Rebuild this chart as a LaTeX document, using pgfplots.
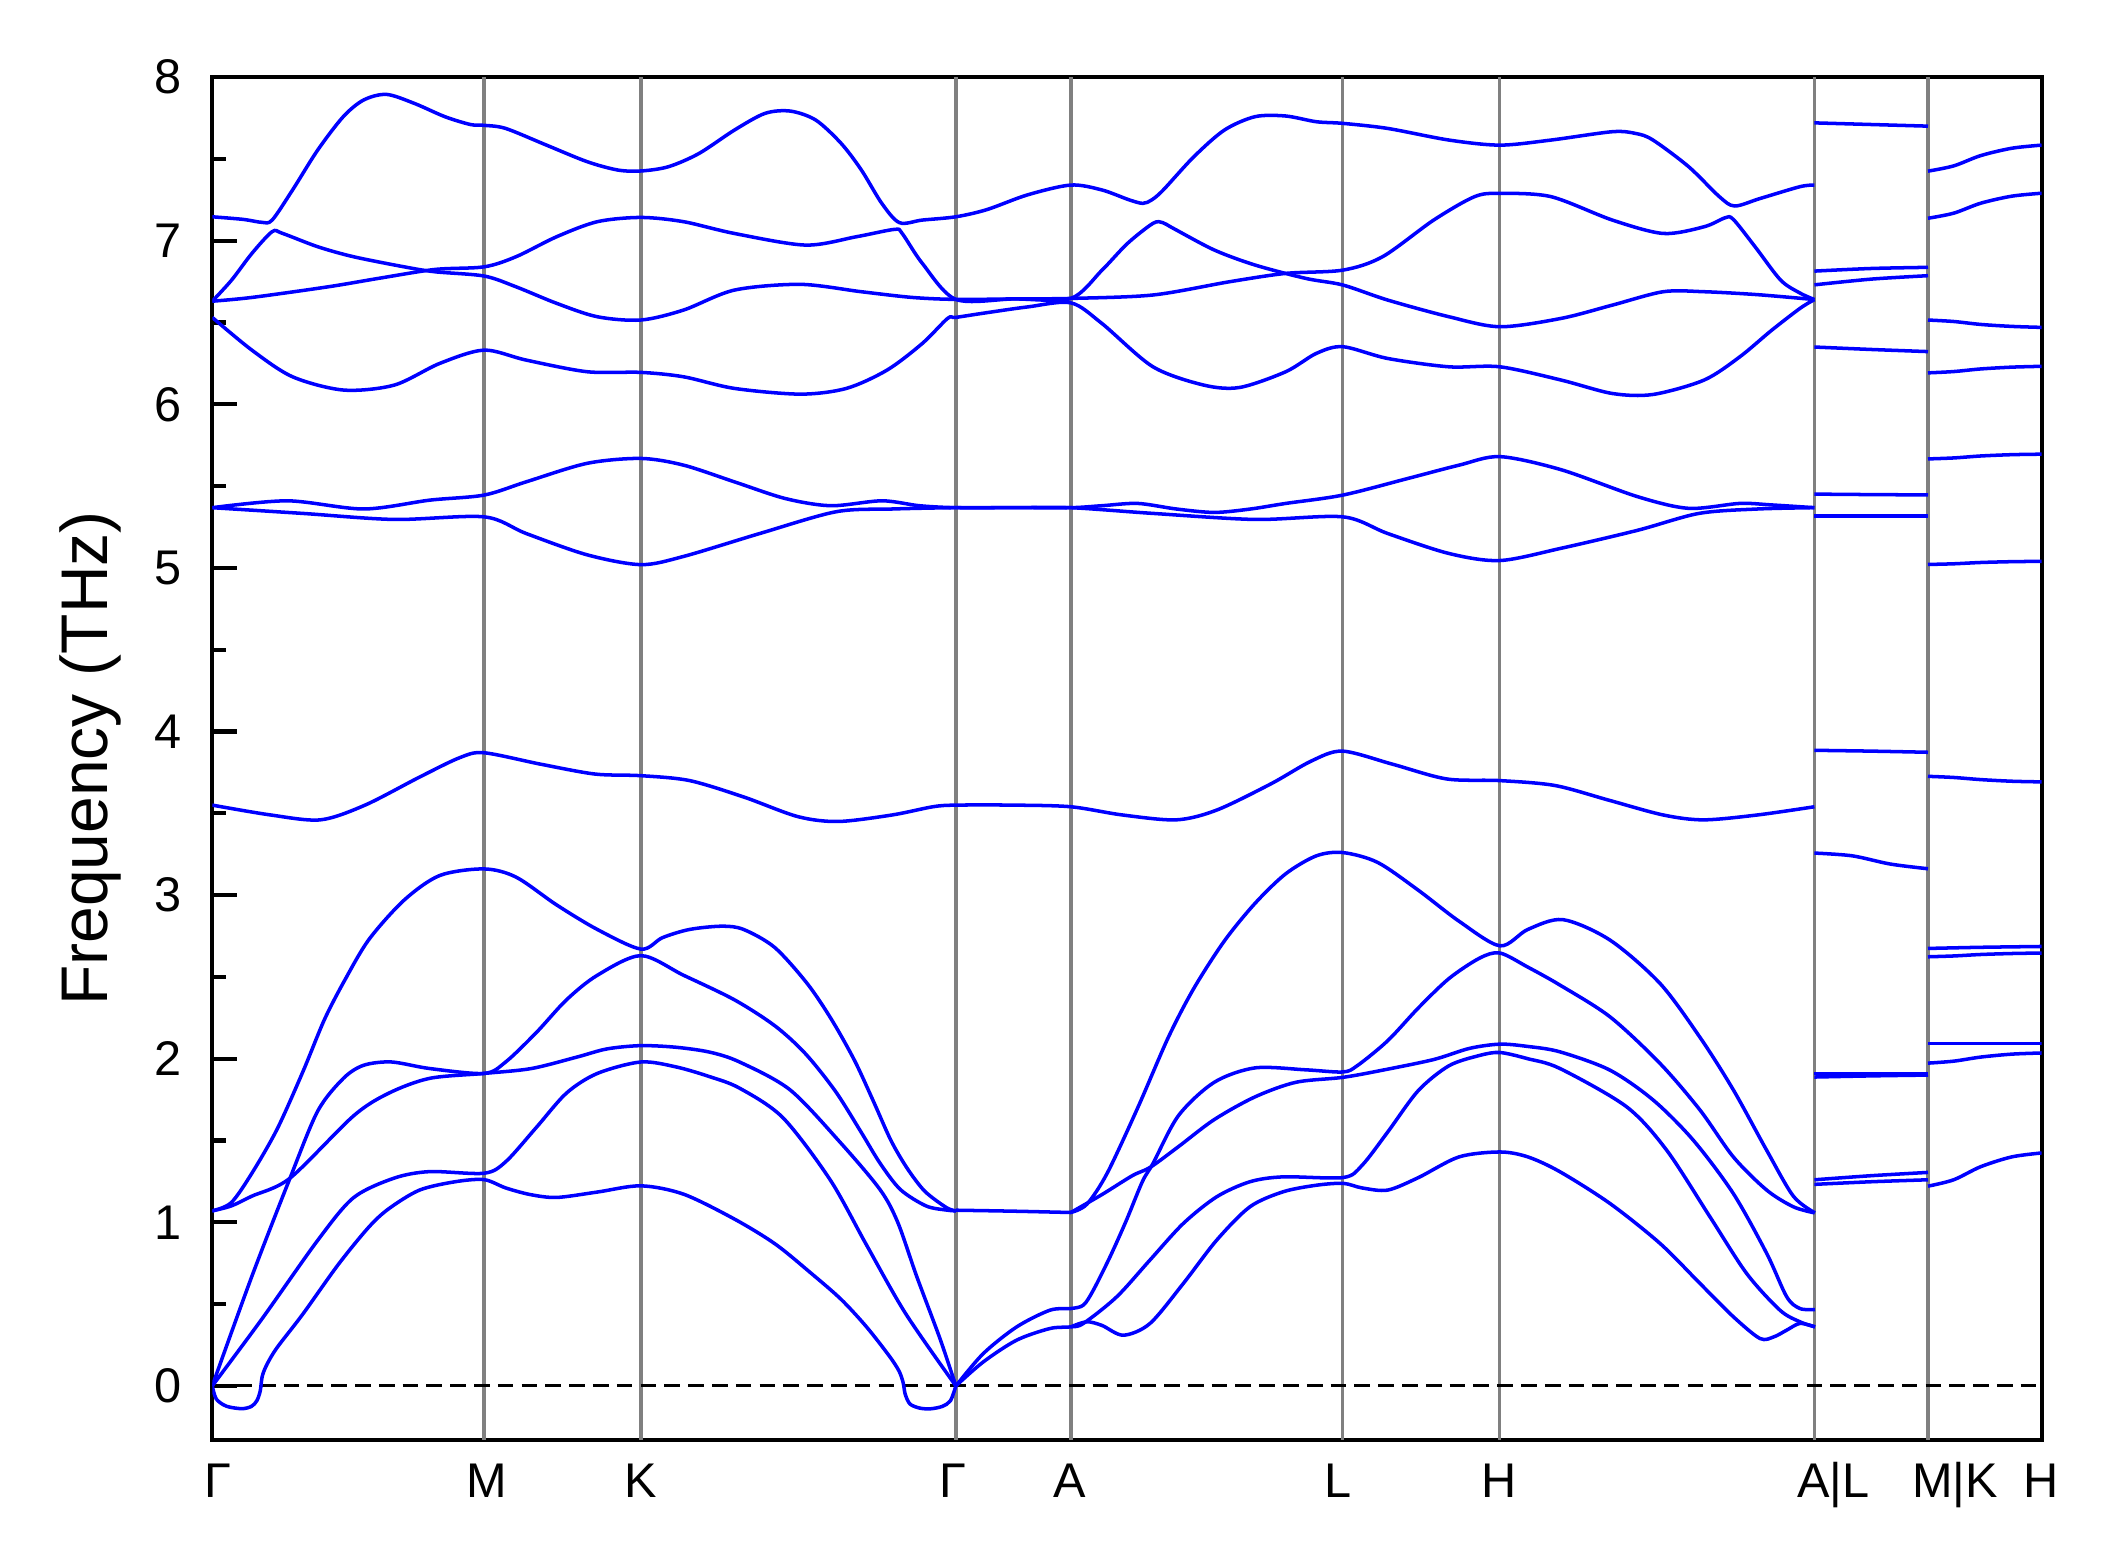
\documentclass[border=0pt]{standalone}
\usepackage{fontspec}
\setmainfont{Liberation Sans}
\usepackage{pgfplots}
\pgfplotsset{compat=1.18}
\usetikzlibrary{calc}
\pgfplotsset{band/.style={color={rgb,255:red,0;green,0;blue,255}, line width=0.65pt, smooth, tension=0.5, forget plot}}
\begin{document}
\begin{tikzpicture}
\begin{axis}[
  width=338.25pt, height=252pt, scale only axis,
  xmin=157, xmax=1510, ymin=-0.33, ymax=8,
  axis line style={line width=0.75pt},
  ytick={0,1,2,3,4,5,6,7,8},
  minor ytick={0.5,1.5,2.5,3.5,4.5,5.5,6.5,7.5},
  ytick pos=left, tick align=inside,
  major tick length=4.6pt, minor tick length=2.5pt,
  every tick/.style={black, line width=0.75pt},
  xtick={161,360,474,705,791,990,1109,1356,1446,1510},
  xticklabels={Γ,M,K,Γ,A,L,H,A|L,M|K,H},
  x tick style={draw=none},
  xtick pos=bottom,
  /pgf/number format/assume math mode=true,
  yticklabel style={font=\fontsize{9}{10}\selectfont, xshift=-2.2pt},
  xticklabel style={font=\fontsize{9}{10}\selectfont, text height=6.5pt, text depth=1.9pt, yshift=-0.7pt},
  ylabel={Frequency (THz)},
  every axis y label/.style={at={(axis description cs:-0.0665,0.5)}, rotate=90, anchor=center, font=\fontsize{12.2}{14}\selectfont},
  clip=true,
]
\pgfplotsinvokeforeach{358,474,707,792,993,1109,1342,1426}{
  \addplot[color={rgb,255:red,128;green,128;blue,128}, line width=0.65pt, forget plot] coordinates {(#1,-0.33) (#1,8)};
}
\addplot[black, line width=0.55pt, dash pattern=on 2.9pt off 1.5pt, forget plot] coordinates {(157,0) (1510,0)};

% ---- Gamma - M - K - Gamma ----
\addplot[band] coordinates {(157,0) (160,-0.08) (167.5,-0.124) (178.8,-0.139) (186,-0.125) (190,-0.09) (192.5,-0.03) (194,0.06) (197.6,0.134) (205,0.235) (223.9,0.438) (250.2,0.742) (272.7,0.97) (287.7,1.084) (310.3,1.197) (336.6,1.248) (358,1.261) (374.1,1.21) (392,1.17) (411.7,1.152) (441.8,1.185) (474,1.223) (505.6,1.172) (543.2,1.02) (573.3,0.868) (599.6,0.691) (622,0.53) (641,0.36) (658,0.18) (665,0.09) (668,0.02) (669.5,-0.05) (673,-0.11) (680,-0.135) (688,-0.14) (697,-0.125) (703,-0.09) (707,0)};
\addplot[band] coordinates {(157,0) (193.8,0.41) (235,0.89) (261.4,1.15) (291.5,1.27) (317.8,1.31) (358,1.30) (374,1.37) (396.7,1.58) (419,1.79) (441.8,1.91) (474,1.98) (500,1.95) (525,1.89) (547,1.82) (579,1.64) (614,1.26) (641,0.86) (670,0.44) (707,0)};
\addplot[band] coordinates {(157,0) (186.3,0.67) (214.5,1.27) (235,1.68) (254,1.88) (269,1.96) (289.6,1.98) (317.8,1.94) (358,1.91) (374,1.98) (396.7,2.16) (419,2.36) (441.8,2.51) (474,2.63) (505.6,2.51) (543.2,2.36) (573.3,2.20) (595.8,2.03) (618,1.80) (637,1.55) (651,1.36) (666,1.20) (685,1.10) (700,1.075) (707,1.07)};
\addplot[band] coordinates {(157,1.07) (171,1.10) (186.3,1.16) (214.5,1.27) (261.4,1.65) (287.7,1.79) (317.8,1.88) (358,1.91) (393,1.94) (426.7,2.01) (449,2.06) (474,2.08) (500,2.07) (525,2.04) (547,1.98) (584.3,1.81) (621.3,1.49) (650.9,1.20) (664,1.00) (678,0.67) (695.2,0.29) (707,0)};
\addplot[band] coordinates {(157,1.07) (171,1.12) (186.3,1.30) (205,1.57) (224,1.92) (240,2.24) (255,2.48) (273,2.73) (299,2.97) (325.3,3.12) (358,3.16) (381.7,3.11) (411.7,2.94) (441.8,2.79) (474,2.67) (490,2.74) (510,2.79) (534,2.81) (550,2.79) (573,2.68) (597,2.46) (615,2.24) (632,1.99) (646,1.74) (659,1.50) (671,1.33) (684,1.19) (700,1.09) (707,1.07)};
% 3.55 band, whole path to A|L
\addplot[band] coordinates {(157,3.55) (200,3.49) (237,3.46) (270,3.55) (310,3.72) (340,3.84) (358,3.87) (400,3.80) (440,3.74) (474,3.73) (510,3.70) (550,3.60) (590,3.48) (620,3.45) (660,3.49) (690,3.54) (707,3.55) (750,3.55) (792,3.54) (830,3.49) (870,3.46) (900,3.52) (940,3.68) (970,3.82) (993,3.88) (1030,3.80) (1070,3.71) (1109,3.70) (1150,3.67) (1190,3.58) (1230,3.49) (1260,3.46) (1300,3.49) (1342,3.54)};
% 5.37 upper
\addplot[band] coordinates {(157,5.368) (212.6,5.41) (268.9,5.36) (317.8,5.414) (358,5.445) (389.2,5.526) (434.2,5.639) (474,5.669) (505.6,5.628) (543.2,5.526) (580.8,5.424) (614.6,5.38) (652.2,5.41) (680,5.38) (707,5.368) (750,5.368) (792,5.368) (815,5.38) (841.5,5.394) (870,5.36) (898.1,5.339) (925,5.36) (951,5.394) (993.2,5.445) (1041.5,5.547) (1079.2,5.628) (1109.4,5.68) (1154.7,5.60) (1211.3,5.435) (1249,5.364) (1286.8,5.394) (1310,5.385) (1342,5.368)};
% 5.37 lower
\addplot[band] coordinates {(157,5.368) (223.9,5.333) (291.5,5.296) (358,5.312) (389.2,5.21) (434.2,5.08) (474,5.02) (505.6,5.07) (561.9,5.21) (618.3,5.343) (660,5.36) (707,5.368) (750,5.368) (792,5.368) (852.8,5.333) (928.3,5.296) (993.2,5.312) (1026.4,5.21) (1071.7,5.088) (1109.4,5.045) (1154.7,5.12) (1211.3,5.23) (1256.6,5.333) (1300,5.36) (1342,5.368)};
% 6.52 band
\addplot[band] coordinates {(157,6.531) (186.3,6.331) (216.4,6.168) (254,6.087) (291.5,6.117) (325.3,6.25) (358,6.331) (389.2,6.27) (434.2,6.199) (474,6.195) (505.6,6.168) (543.2,6.097) (592,6.062) (626,6.097) (656.1,6.209) (682.2,6.372) (700.9,6.525) (707,6.531) (730,6.56) (760,6.595) (792,6.62) (815,6.494) (852.8,6.229) (890.5,6.117) (917,6.103) (951,6.199) (973.6,6.311) (993.2,6.352) (1026.4,6.28) (1071.7,6.229) (1109.4,6.229) (1154.7,6.148) (1192.5,6.066) (1222.6,6.06) (1260.4,6.148) (1286.8,6.29) (1310,6.45) (1331.3,6.586) (1342,6.64)};
% T2
\addplot[band] coordinates {(157,6.63) (171.3,6.759) (186.3,6.922) (201.3,7.055) (208.8,7.045) (235,6.963) (261.4,6.902) (299,6.84) (321.6,6.81) (358,6.784) (381.7,6.718) (411.7,6.617) (441.8,6.535) (474,6.515) (505.6,6.576) (543.2,6.698) (592,6.733) (637,6.688) (674.7,6.653) (707,6.641) (750,6.644) (792,6.647) (815.1,6.82) (833.9,6.983) (852.8,7.106) (860,7.11) (867.9,7.075) (898.1,6.943) (928.3,6.851) (966,6.769) (993.2,6.729) (1026.4,6.637) (1071.7,6.535) (1109.4,6.474) (1154.7,6.525) (1192.5,6.606) (1230.2,6.688) (1260.4,6.688) (1300,6.67) (1342,6.64)};
% T3
\addplot[band] coordinates {(157,6.63) (186.3,6.653) (242.7,6.718) (280.3,6.77) (321.6,6.824) (358,6.84) (381.7,6.902) (411.7,7.024) (441.8,7.116) (474,7.142) (505.6,7.116) (543.2,7.044) (595.8,6.973) (633.4,7.024) (661.6,7.069) (667.2,7.045) (682.2,6.861) (707,6.641) (750,6.644) (792,6.647) (852.8,6.668) (909.4,6.749) (951,6.8) (993.2,6.82) (1022.6,6.902) (1060.4,7.126) (1090.6,7.269) (1109.4,7.289) (1147.2,7.269) (1192.5,7.126) (1230.2,7.044) (1260.4,7.085) (1276,7.14) (1282,7.13) (1298.1,6.963) (1317,6.759) (1331.3,6.68) (1342,6.64)};
% T1
\addplot[band] coordinates {(157,7.146) (180,7.13) (193.8,7.112) (201.3,7.126) (216.4,7.31) (235,7.554) (253.9,7.758) (269,7.86) (285.9,7.894) (306.5,7.839) (329,7.758) (347.9,7.71) (358,7.705) (374,7.686) (404.2,7.584) (434.2,7.483) (456.8,7.432) (474,7.426) (494.4,7.452) (517,7.533) (543.2,7.676) (565.8,7.778) (584.6,7.792) (603.4,7.737) (622.1,7.595) (637.1,7.432) (652.2,7.228) (665.3,7.110) (682.2,7.126) (707,7.146) (730,7.19) (760,7.28) (792,7.34) (815,7.31) (835,7.25) (845.3,7.228) (852,7.25) (860.4,7.31) (883,7.513) (905.6,7.676) (928.3,7.758) (950.9,7.762) (973.6,7.727) (993.2,7.717) (1026.4,7.686) (1071.7,7.615) (1109.4,7.584) (1147.2,7.615) (1192.5,7.666) (1210,7.655) (1222.6,7.615) (1249,7.452) (1271.7,7.269) (1283,7.212) (1301.9,7.258) (1331.3,7.33) (1342,7.34)};

% ---- Gamma - A and onward (low bands) ----
\addplot[band] coordinates {(707,1.074) (750,1.068) (792,1.06)};
% acoustic upper -> A3
\addplot[band] coordinates {(707,0) (727.3,0.198) (752,0.361) (776.6,0.463) (792,0.473) (801.3,0.494) (808.7,0.586) (821,0.789) (833,1.01) (845,1.25) (852.8,1.36) (871.7,1.653) (898.1,1.856) (928.3,1.944) (966,1.932) (993.2,1.919) (1003.8,1.957) (1026.4,2.11) (1049,2.31) (1071.7,2.49) (1094.4,2.615) (1109.4,2.646) (1130,2.56) (1153.8,2.45) (1190.8,2.256) (1227.8,1.971) (1257.4,1.686) (1282,1.40) (1306.7,1.197) (1326.4,1.095) (1342,1.058)};
% acoustic lower -> A4
\addplot[band] coordinates {(707,0) (727.3,0.147) (752,0.28) (776.6,0.351) (792,0.361) (801.3,0.382) (826,0.545) (850.6,0.77) (875.2,0.993) (899.9,1.156) (924.5,1.248) (949.2,1.278) (993.6,1.274) (1007.5,1.349) (1026.4,1.552) (1049,1.805) (1071.7,1.957) (1094.4,2.02) (1109.4,2.038) (1130,2.00) (1153.8,1.94) (1203.1,1.706) (1232.7,1.441) (1264.7,1.034) (1291.9,0.687) (1316.5,0.463) (1331.3,0.392) (1342.4,0.361)};
% A5
\addplot[band] coordinates {(792,0.361) (803.7,0.392) (815,0.37) (830.9,0.31) (850.6,0.382) (875.2,0.626) (899.9,0.891) (924.5,1.095) (949.2,1.187) (973.9,1.227) (993.6,1.238) (1007.5,1.21) (1026.4,1.197) (1049,1.273) (1079.2,1.40) (1109.4,1.43) (1130,1.40) (1153.8,1.309) (1190.8,1.115) (1227.8,0.871) (1257.4,0.626) (1282,0.423) (1301.7,0.29) (1312,0.30) (1321.5,0.341) (1331.3,0.382) (1342.4,0.361)};
% A1 steep
\addplot[band] coordinates {(792,1.06) (803.8,1.11) (818.9,1.30) (841.5,1.70) (864.1,2.13) (883,2.43) (905.6,2.72) (928.3,2.95) (950.9,3.13) (973.6,3.24) (993.2,3.26) (1018.9,3.20) (1049,3.03) (1079.2,2.84) (1109.4,2.69) (1130,2.79) (1156,2.85) (1190.8,2.725) (1227.8,2.46) (1257.4,2.13) (1282,1.81) (1306.7,1.44) (1326.4,1.16) (1342.4,1.058)};
% A2
\addplot[band] coordinates {(792,1.06) (815.1,1.17) (837.7,1.286) (850.9,1.337) (871.7,1.463) (898.1,1.628) (928.3,1.767) (958.5,1.856) (993.2,1.886) (1022.6,1.93) (1060.4,1.995) (1086.8,2.063) (1109.4,2.089) (1130,2.075) (1153.8,2.042) (1190.8,1.93) (1222.8,1.747) (1252.4,1.502) (1282,1.176) (1306.7,0.81) (1321.5,0.545) (1331.3,0.473) (1342.4,0.467)};

% ---- L - M segment ----
\addplot[band] coordinates {(1342,7.72) (1384,7.71) (1426,7.70)};
\addplot[band] coordinates {(1342,6.814) (1384,6.83) (1426,6.837)};
\addplot[band] coordinates {(1342,6.73) (1384,6.765) (1426,6.786)};
\addplot[band] coordinates {(1342,6.35) (1384,6.335) (1426,6.322)};
\addplot[band] coordinates {(1342,5.451) (1384,5.448) (1426,5.446)};
\addplot[band] coordinates {(1342,5.316) (1384,5.316) (1426,5.316)};
\addplot[band] coordinates {(1342,3.885) (1384,3.88) (1426,3.873)};
\addplot[band] coordinates {(1342,3.257) (1370,3.24) (1398,3.19) (1426,3.161)};
\addplot[band] coordinates {(1342,1.911) (1384,1.911) (1426,1.911)};
\addplot[band] coordinates {(1342,1.888) (1384,1.895) (1426,1.90)};
\addplot[band] coordinates {(1342,1.26) (1384,1.285) (1426,1.305)};
\addplot[band] coordinates {(1342,1.232) (1384,1.248) (1426,1.26)};

% ---- K - H segment ----
\addplot[band] coordinates {(1426,7.425) (1445,7.457) (1465,7.52) (1488,7.565) (1510,7.584)};
\addplot[band] coordinates {(1426,7.137) (1445,7.168) (1465,7.229) (1488,7.272) (1510,7.29)};
\addplot[band] coordinates {(1426,6.515) (1445,6.506) (1465,6.488) (1488,6.476) (1510,6.47)};
\addplot[band] coordinates {(1426,6.192) (1445,6.20) (1465,6.216) (1488,6.227) (1510,6.232)};
\addplot[band] coordinates {(1426,5.666) (1445,5.672) (1465,5.684) (1488,5.692) (1510,5.695)};
\addplot[band] coordinates {(1426,5.021) (1445,5.025) (1465,5.033) (1488,5.038) (1510,5.04)};
\addplot[band] coordinates {(1426,3.726) (1445,3.719) (1465,3.706) (1488,3.696) (1510,3.692)};
\addplot[band] coordinates {(1426,2.674) (1465,2.681) (1510,2.686)};
\addplot[band] coordinates {(1426,2.623) (1445,2.628) (1465,2.637) (1488,2.643) (1510,2.646)};
\addplot[band] coordinates {(1426,2.092) (1465,2.092) (1510,2.092)};
\addplot[band] coordinates {(1426,1.973) (1445,1.985) (1465,2.01) (1488,2.028) (1510,2.035)};
\addplot[band] coordinates {(1426,1.221) (1445,1.26) (1465,1.34) (1488,1.40) (1510,1.424)};
\end{axis}
\path ($(current axis.south west)+(-39.25pt,-23.5pt)$) rectangle ($(current axis.north east)+(14.5pt,14.25pt)$);
\end{tikzpicture}
\end{document}
